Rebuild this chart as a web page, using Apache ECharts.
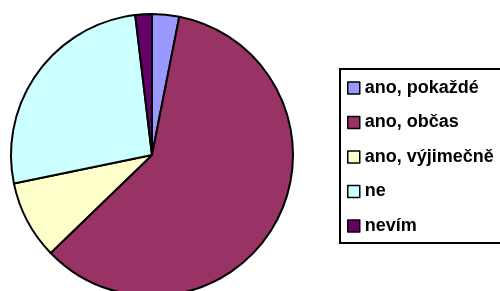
<!DOCTYPE html>
<html>
<head>
<meta charset="utf-8">
<script src="https://cdn.jsdelivr.net/npm/echarts@6/dist/echarts.min.js"></script>
<style>
  html, body { margin: 0; padding: 0; background: #fff; }
  #pie { width: 500px; height: 291px; }
</style>
</head>
<body>
<div id="pie"></div>
<script>
const categories = ['ano, pokaždé', 'ano, občas', 'ano, výjimečně', 'ne', 'nevím']
const shares = [3.1, 59.6, 9.0, 26.3, 1.9]
const colors = ['#9999FF', '#993366', '#FFFFCC', '#CCFFFF', '#660066']

let myChart = echarts.init(document.getElementById('pie'))
myChart.setOption({
    animation: false,
    color: colors,
    legend: {
        orient: 'vertical',
        left: 340,
        top: 69,
        padding: [10, 40, 8, 7],
        borderColor: '#000',
        borderWidth: 2,
        itemWidth: 12,
        itemHeight: 12,
        itemGap: 16.5,
        icon: 'rect',
        itemStyle: { borderColor: '#000', borderWidth: 1.5 },
        textStyle: {
            fontFamily: 'Liberation Sans',
            fontWeight: 'bold',
            fontSize: 18,
            lineHeight: 18,
            color: '#000'
        },
        data: categories
    },
    series: [
        {
            type: 'pie',
            center: [152, 155],
            radius: 141,
            startAngle: 90,
            clockwise: true,
            label: { show: false },
            labelLine: { show: false },
            emphasis: { disabled: true },
            itemStyle: { borderColor: '#000', borderWidth: 2 },
            data: categories.map((name, i) => ({ name: name, value: shares[i] }))
        }
    ]
})
</script>
</body>
</html>
